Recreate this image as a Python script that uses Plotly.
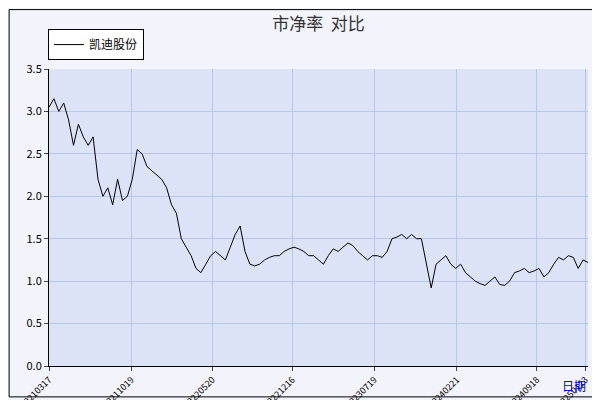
import pandas as pd
import plotly.graph_objects as go

# 市净率 values, roughly every two weeks
pb_values = [3.05, 3.15, 3.0, 3.1, 2.9, 2.6, 2.85, 2.7, 2.6, 2.7,
             2.2, 2.0, 2.1, 1.9, 2.2, 1.95, 2.0, 2.2, 2.55, 2.5,
             2.35, 2.3, 2.25, 2.2, 2.1, 1.9, 1.8, 1.5, 1.4, 1.3,
             1.15, 1.1, 1.2, 1.3, 1.35, 1.3, 1.25, 1.4, 1.55, 1.65,
             1.35, 1.2, 1.18, 1.2, 1.25, 1.28, 1.3, 1.3, 1.35, 1.38,
             1.4, 1.38, 1.35, 1.3, 1.3, 1.25, 1.2, 1.3, 1.38, 1.35,
             1.4, 1.45, 1.42, 1.35, 1.3, 1.25, 1.3, 1.3, 1.28, 1.35,
             1.5, 1.52, 1.55, 1.5, 1.55, 1.5, 1.5, 1.2, 0.92, 1.2,
             1.25, 1.3, 1.2, 1.15, 1.2, 1.1, 1.05, 1.0, 0.97, 0.95,
             1.0, 1.05, 0.96, 0.95, 1.0, 1.1, 1.12, 1.15, 1.1, 1.12,
             1.15, 1.05, 1.1, 1.2, 1.28, 1.25, 1.3, 1.28, 1.15, 1.25, 1.22]
start_date = "2021-03-17"
end_date = "2025-01-30"
tick_labels = ["20210317", "20211019", "20220520", "20221216",
               "20230719", "20240221", "20240918", "20250123"]
y_ticks = [0, 0.5, 1, 1.5, 2, 2.5, 3, 3.5]

dates = pd.date_range(start_date, end_date, periods=len(pb_values))

fig = go.Figure()
fig.add_trace(go.Scatter(x=dates, y=pb_values, mode="lines", name="凯迪股份",
                         line=dict(color="black", width=1)))

fig.update_layout(
    width=600, height=400,
    margin=dict(l=41, r=20, t=61, b=42, autoexpand=False),
    paper_bgcolor="#f3f4fb", plot_bgcolor="#dce3f7",
    font=dict(family="Noto Sans CJK SC, DejaVu Sans", size=11, color="black"),
    title=dict(text="市净率  对比", x=0.5, y=0.96, xref="paper", yref="container",
               xanchor="center", yanchor="middle",
               font=dict(size=17, color="#333")),
    showlegend=True,
    legend=dict(x=-0.002, y=1.03, xanchor="left", yanchor="bottom",
                bgcolor="white", bordercolor="black", borderwidth=1,
                font=dict(size=12), itemwidth=30),
    xaxis=dict(type="date", range=[dates[0], dates[-1]],
               tickvals=pd.to_datetime(tick_labels, format="%Y%m%d"),
               ticktext=tick_labels, tickangle=-45,
               tickfont=dict(size=9),
               showgrid=True, gridcolor="#b8c6ee",
               showline=True, linecolor="black", ticks="outside", ticklen=4),
    yaxis=dict(range=[0, 3.5], tickvals=y_ticks, tickformat=".1f",
               showgrid=True, gridcolor="#b8c6ee", zeroline=False,
               showline=True, linecolor="black", ticks="outside", ticklen=4,
               tickfont=dict(size=11)),
    shapes=[dict(type="rect", xref="paper", yref="paper", x0=-0.074, x1=1.02,
                 y0=-0.104, y1=1.2, line=dict(color="black", width=1))],
    annotations=[dict(text="日期", xref="paper", yref="paper", x=1.0, y=-0.03,
                      xanchor="right", yanchor="top", showarrow=False,
                      font=dict(color="#0000cc", size=12))],
)

fig.write_html("out.html")
